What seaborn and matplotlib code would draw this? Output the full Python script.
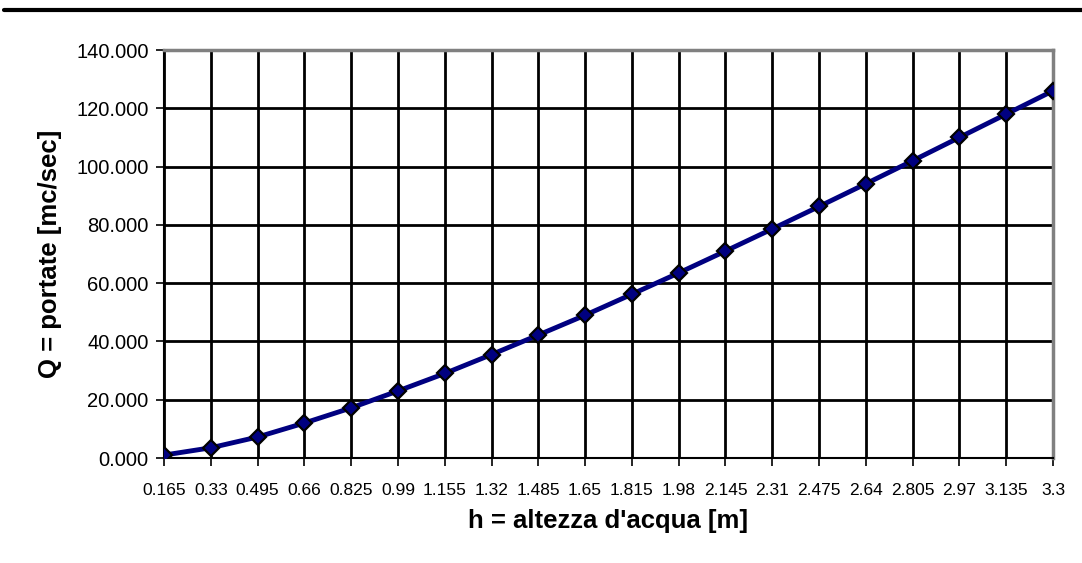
import numpy as np
import pandas as pd
import matplotlib
matplotlib.use("Agg")
import matplotlib.pyplot as plt
import seaborn as sns
from matplotlib.lines import Line2D

# water height categories [m]
h_labels = ["0.165", "0.33", "0.495", "0.66", "0.825", "0.99", "1.155", "1.32",
            "1.485", "1.65", "1.815", "1.98", "2.145", "2.31", "2.475", "2.64",
            "2.805", "2.97", "3.135", "3.3"]
# discharge [mc/sec]
portate = [1.0, 3.5, 7.2, 12.0, 17.2, 23.0, 29.0, 35.5, 42.2, 49.0,
           56.2, 63.5, 71.0, 78.6, 86.3, 94.1, 102.0, 110.0, 118.0, 126.0]

df = pd.DataFrame({"h": np.arange(len(h_labels)), "Q": portate})

sns.set_style("white")
plt.rcParams['font.family'] = ['Liberation Sans', 'DejaVu Sans']
plt.rcParams['text.color'] = 'black'
plt.rcParams['axes.labelcolor'] = 'black'
plt.rcParams['xtick.color'] = 'black'
plt.rcParams['ytick.color'] = 'black'

fig = plt.figure(figsize=(10.82, 5.63), dpi=100)
ax = fig.add_axes([164/1082, 1 - 458/563, (1053 - 164)/1082, (458 - 50)/563])

sns.lineplot(data=df, x="h", y="Q", ax=ax, color="#000080", linewidth=3.5,
             marker="D", markersize=8.5, markerfacecolor="#000080",
             markeredgecolor="black", markeredgewidth=1.6, zorder=5)

ax.set_xlim(0, len(h_labels) - 1)
ax.set_ylim(0, 140)
ax.set_xticks(np.arange(len(h_labels)))
ax.set_xticklabels(h_labels, fontsize=12.5)
ax.set_yticks(np.arange(0, 141, 20))
ax.set_yticklabels([f"{v:.3f}" for v in np.arange(0, 141, 20)], fontsize=14.5)

ax.grid(True, color="black", linewidth=2)
ax.set_axisbelow(True)
ax.tick_params(axis="both", which="both", length=6, width=1.2, color="black",
               direction="out", bottom=True, left=True)
ax.tick_params(axis="x", pad=12)
ax.tick_params(axis="y", pad=5)

for side in ["top", "right"]:
    ax.spines[side].set_color("#808080")
    ax.spines[side].set_linewidth(2.5)
for side in ["left", "bottom"]:
    ax.spines[side].set_color("black")
    ax.spines[side].set_linewidth(1.5)

ax.set_xlabel("h = altezza d'acqua [m]", fontsize=18.5, fontweight="bold", labelpad=8)
ax.set_ylabel("Q = portate [mc/sec]", fontsize=18.5, fontweight="bold", labelpad=10)

# thick rule across the top of the page
fig.add_artist(Line2D([4/1082, 1], [1 - 10/563, 1 - 10/563], color="black",
                      linewidth=3, transform=fig.transFigure))

fig.savefig("out.png", dpi=100)
